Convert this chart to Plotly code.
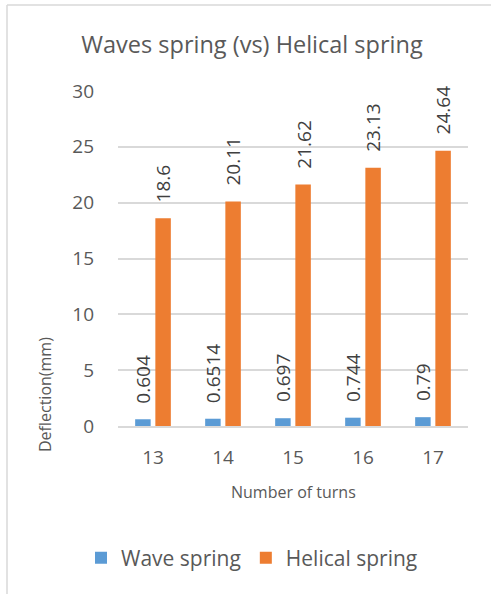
import plotly.graph_objects as go

# Chart data
turns = ["13", "14", "15", "16", "17"]
wave_spring = [0.604, 0.6514, 0.697, 0.744, 0.79]
helical_spring = [18.6, 20.11, 21.62, 23.13, 24.64]
wave_labels = ["0.604", "0.6514", "0.697", "0.744", "0.79"]
helical_labels = ["18.6", "20.11", "21.62", "23.13", "24.64"]

W, H = 491, 594
ML, MR, MT, MB = 118, 23, 91, 168
PW, PH = W - ML - MR, H - MT - MB

FONT = "Open Sans"
TXT = "#595959"
LBL = "#404040"
BLUE = "#5B9BD5"
ORANGE = "#ED7D31"
GRID = "#D9D9D9"


def px_x(px):
    return (px - ML) / PW


def px_y(py):
    return (H - MB - py) / PH


fig = go.Figure()
fig.add_trace(go.Bar(name="Wave spring", x=turns, y=wave_spring,
                     marker=dict(color=BLUE, line=dict(width=0))))
fig.add_trace(go.Bar(name="Helical spring", x=turns, y=helical_spring,
                     marker=dict(color=ORANGE, line=dict(width=0))))

# value labels above each bar (category axis positions are serial indices)
annotations = []
slot_half = 10.1  # half of one bar slot in px
for i in range(len(turns)):
    for vals, labels, shift in ((wave_spring, wave_labels, -slot_half),
                                (helical_spring, helical_labels, slot_half)):
        annotations.append(dict(
            x=i, y=vals[i], xref="x", yref="y", text=labels[i],
            textangle=-90, showarrow=False, xanchor="center", yanchor="bottom",
            xshift=shift, yshift=14,
            font=dict(family=FONT, size=19, color=LBL)))

# axis titles
annotations.append(dict(x=px_x(45), y=px_y(395), xref="paper", yref="paper",
                        text="Deflection(mm)", textangle=-90, showarrow=False,
                        xanchor="center", yanchor="middle",
                        font=dict(family=FONT, size=16, color=TXT)))
annotations.append(dict(x=0.5, y=px_y(492), xref="paper", yref="paper",
                        text="Number of turns", showarrow=False,
                        xanchor="center", yanchor="middle",
                        font=dict(family=FONT, size=16, color=TXT)))

# chart frame (top and left edges)
shapes = [
    dict(type="line", xref="paper", yref="paper", x0=px_x(7), x1=px_x(W + 2),
         y0=px_y(5), y1=px_y(5), line=dict(color=GRID, width=1.5)),
    dict(type="line", xref="paper", yref="paper", x0=px_x(7), x1=px_x(7),
         y0=px_y(5), y1=px_y(H + 2), line=dict(color=GRID, width=1.5)),
]

fig.update_layout(
    width=W, height=H,
    margin=dict(l=ML, r=MR, t=MT, b=MB),
    paper_bgcolor="white", plot_bgcolor="white",
    barmode="group", bargap=0.423, bargroupgap=0.233,
    title=dict(text="Waves spring (vs) Helical spring", x=252 / W,
               xanchor="center", y=1 - 45 / H, yanchor="middle",
               font=dict(family=FONT, size=23.5, color=TXT)),
    xaxis=dict(type="category", range=[-0.5, len(turns) - 0.5], showgrid=False,
               showline=True, linecolor=GRID, linewidth=1.5, ticks="",
               tickfont=dict(family=FONT, size=19, color=TXT),
               ticklabelstandoff=13),
    yaxis=dict(range=[0, 30], dtick=5, showgrid=True, gridcolor=GRID, gridwidth=1.5,
               zeroline=False, showline=False, ticks="",
               tickfont=dict(family=FONT, size=19, color=TXT),
               ticklabelstandoff=23),
    legend=dict(orientation="h", x=px_x(252), xanchor="center",
                y=px_y(558), yanchor="middle",
                font=dict(family=FONT, size=21, color=TXT),
                itemwidth=30, tracegroupgap=0),
    annotations=annotations,
    shapes=shapes,
    showlegend=True,
)

fig.write_html("out.html")
